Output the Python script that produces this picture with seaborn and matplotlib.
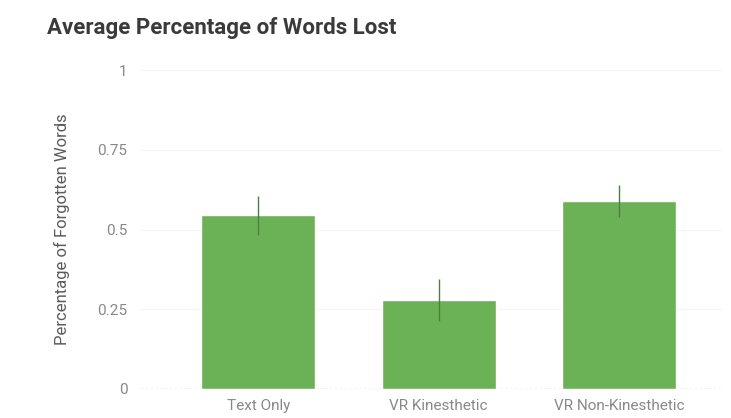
import matplotlib
matplotlib.use("Agg")
import matplotlib.pyplot as plt
import seaborn as sns
import pandas as pd

# Chart data
conditions = ["Text Only", "VR Kinesthetic", "VR Non-Kinesthetic"]
mean_lost = [0.544, 0.280, 0.588]
error_lost = [0.062, 0.066, 0.050]
y_ticks = [0, 0.25, 0.5, 0.75, 1]
y_tick_labels = ["0", "0.25", "0.5", "0.75", "1"]

sns.set_theme(style="white")
plt.rcParams["font.family"] = ["Roboto", "DejaVu Sans"]

df = pd.DataFrame({"condition": conditions, "lost": mean_lost})

fig = plt.figure(figsize=(7.31, 4.18), dpi=100)
ax = fig.add_axes([140 / 731, 1 - 389 / 418, 582 / 731, (389 - 70) / 418])

sns.barplot(data=df, x="condition", y="lost", color="#6bb257", saturation=1,
            width=0.63, errorbar=None, ax=ax, zorder=2)
ax.errorbar(range(len(conditions)), mean_lost, yerr=error_lost, fmt="none",
            ecolor="#4f7d3e", elinewidth=1.0, capsize=0, zorder=3)

ax.set_ylim(0, 1)
ax.set_xlim(-0.655, 2.57)
ax.set_yticks(y_ticks)
ax.set_yticklabels(y_tick_labels)
for y in y_ticks[1:]:
    ax.axhline(y, color="#f5f5f5", lw=0.8, zorder=0)
ax.axhline(0, color="#c4c4c4", lw=1.0, ls=(0, (2, 1.5)), zorder=4)

for s in ax.spines.values():
    s.set_visible(False)
ax.tick_params(axis="both", length=0, colors="#888888", labelsize=11)
ax.tick_params(axis="y", pad=9)
ax.tick_params(axis="x", pad=7)
ax.set_xlabel("")
ax.set_ylabel("Percentage of Forgotten Words", fontsize=12, color="#5a5a5a", labelpad=20)

fig.text(47 / 731, 1 - 28 / 418, "Average Percentage of Words Lost", fontsize=16,
         fontweight="bold", color="#3a3a3a", va="center", ha="left")

fig.savefig("out.png", dpi=100, facecolor="white")
